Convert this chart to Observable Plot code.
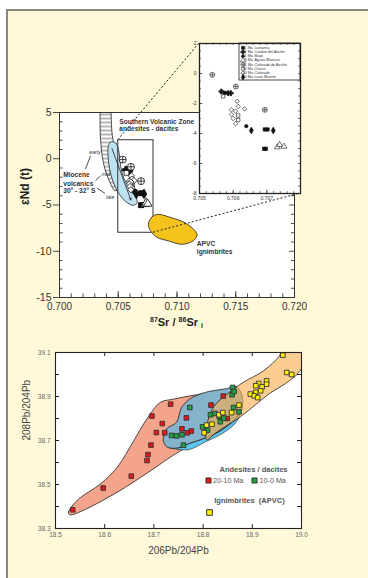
<!DOCTYPE html>
<html><head><meta charset="utf-8">
<script src="https://cdn.jsdelivr.net/npm/d3@7"></script>
<script src="https://cdn.jsdelivr.net/npm/@observablehq/plot@0.6"></script>
<style>
html,body{margin:0;padding:0;background:#fff;}
#page{position:relative;width:368px;height:578px;overflow:hidden;background:#fff;font-family:"Liberation Sans",Arial,sans-serif;}
#cream{position:absolute;left:6px;top:9px;right:0;bottom:0;background:#fff9da;border-left:2px solid #8a857e;border-top:2px solid #8a857e;}
#page svg{position:absolute;left:0;background:transparent;}
#srTitle{position:absolute;left:59px;width:235px;top:315px;text-align:center;font:bold 11px "Liberation Sans",Arial,sans-serif;color:#222;line-height:14px;}
#srTitle sup{font-size:7px;vertical-align:4px;line-height:0;}
#srTitle sub{font-size:7px;vertical-align:-2px;line-height:0;}
</style></head><body>
<div id="page"><div id="cream"></div></div>
<script>
// ---------------- Top panel: 87Sr/86Sr vs eNd ----------------
const srTicks = [0.700, 0.705, 0.710, 0.715, 0.720];
const ndTicks = [5, 0, -5, -10, -15];
const insetSrTicks = [0.705, 0.706, 0.707];
const insetNdTicks = [2, 0, -2, -4, -6, -8];
const zoomBox = {x1: 0.705, x2: 0.708, y1: -8, y2: 2};

const volcanoes = ["Lastarria", "Cordon del Azufre", "Bayo", "Aguas Blancas", "Colorado de Azufre", "Chaco", "Colorado", "Leon Muerto"];
const volcanoAges = ["<1 Ma", "<1 Ma", "<1 Ma", "8 Ma", "11 Ma", "16 Ma", "20 Ma", "20 Ma"];

// [unit, 87Sr/86Sr, eNd]
const svzSamples = [
  ["Colorado de Azufre", 0.70538, -0.09],
  ["Colorado de Azufre", 0.70608, -0.87],
  ["Colorado de Azufre", 0.70694, -2.42],
  ["Cordon del Azufre", 0.70565, -1.20],
  ["Lastarria", 0.70575, -1.29],
  ["Cordon del Azufre", 0.70585, -1.31],
  ["Cordon del Azufre", 0.70593, -1.31],
  ["Chaco", 0.70570, -1.53],
  ["Colorado", 0.70612, -1.85],
  ["Colorado", 0.70615, -2.20],
  ["Colorado", 0.70634, -2.36],
  ["Colorado", 0.70595, -2.42],
  ["Colorado", 0.70607, -2.51],
  ["Colorado", 0.70595, -2.73],
  ["Colorado", 0.70600, -3.00],
  ["Colorado", 0.70607, -3.35],
  ["Chaco", 0.70615, -2.80],
  ["Chaco", 0.70615, -3.10],
  ["Bayo", 0.70639, -3.51],
  ["Leon Muerto", 0.70654, -3.80],
  ["Lastarria", 0.70694, -3.73],
  ["Lastarria", 0.70702, -3.73],
  ["Leon Muerto", 0.70719, -3.80],
  ["Lastarria", 0.70692, -5.02],
  ["Lastarria", 0.70697, -5.02],
  ["Aguas Blancas", 0.70731, -4.91],
  ["Aguas Blancas", 0.70738, -4.75],
  ["Aguas Blancas", 0.70751, -4.87]
];

// outlines [87Sr/86Sr, eNd]
const hatchBand = [[0.70345,5.6],[0.70345,5],[0.70349,2.16],[0.70373,-0.4],[0.70416,-2.16],[0.70473,-3.46],[0.70500,-3.2],[0.70507,-1.3],[0.70481,0.3],[0.70460,1.73],[0.70447,2.8],[0.70439,5],[0.70439,5.6]];
const mioceneField = [[0.70439,1.84],[0.70481,1.68],[0.70507,0.65],[0.70520,-0.76],[0.70549,-2.16],[0.70600,-3.35],[0.70652,-4.22],[0.70660,-4.76],[0.70626,-5.03],[0.70566,-4.65],[0.70507,-3.79],[0.70456,-2.49],[0.70426,-1.08],[0.70413,0.32],[0.70417,1.41]];
const apvcField = [[0.70756,-7.07],[0.70788,-6.28],[0.70839,-6.01],[0.70941,-6.33],[0.71052,-6.82],[0.71137,-7.58],[0.71171,-8.23],[0.71137,-8.87],[0.71043,-9.25],[0.70924,-8.87],[0.70831,-8.5],[0.70775,-7.79]];
const trendArrow = [{x1: 0.70447, y1: 1.1, x2: 0.70607, y2: -4.45}];

const mainNotes = [
  {text: "Southern Volcanic Zone", x: 0.70509, y: 3.94},
  {text: "andesites - dacites", x: 0.70509, y: 3.22},
  {text: "Miocene", x: 0.70032, y: -1.76},
  {text: "volcanics", x: 0.70032, y: -2.67},
  {text: "30° - 32° S", x: 0.70032, y: -3.46},
  {text: "APVC", x: 0.71169, y: -9.17},
  {text: "ignimbrites", x: 0.71169, y: -10.06}
];
const phaseNotesEnd = [{text: "early", x: 0.70349, y: 0.68}, {text: "mid", x: 0.70430, y: -1.66}];
const phaseNotesStart = [{text: "late", x: 0.70396, y: -4.19}];
const leaders = [
  {x1: 0.70264, y1: 0.32, x2: 0.70221, y2: -1.11},
  {x1: 0.70349, y1: -1.84, x2: 0.70306, y2: -2.38},
  {x1: 0.70317, y1: -3.17, x2: 0.70388, y2: -3.75}
];

// ---------------- Bottom panel: Pb isotopes ----------------
const pbXTicks = [18.5, 18.6, 18.7, 18.8, 18.9, 19.0];
const pbYTicks = [38.3, 38.4, 38.5, 38.6, 38.7, 38.8, 38.9, 39.0, 39.1];
const pbYLabels = [38.3, 38.5, 38.7, 38.9, 39.1];

const pbOld = [[18.535,38.385],[18.597,38.484],[18.654,38.538],[18.686,38.609],[18.688,38.636],[18.694,38.679],[18.696,38.811],[18.705,38.736],[18.717,38.777],[18.722,38.735],[18.734,38.865],[18.757,38.753],[18.766,38.803],[18.768,38.735],[18.776,38.743],[18.816,38.861],[18.841,38.902],[18.849,38.800]];
const pbYoung = [[18.736,38.723],[18.746,38.721],[18.757,38.726],[18.760,38.679],[18.773,38.850],[18.799,38.762],[18.809,38.747],[18.815,38.817],[18.824,38.823],[18.833,38.808],[18.835,38.785],[18.842,38.802],[18.859,38.908],[18.860,38.941],[18.863,38.923],[18.862,38.850],[18.873,38.830]];
const pbIgn = [[18.962,39.088],[18.970,39.009],[18.980,39.000],[18.896,38.911],[18.907,38.919],[18.913,38.959],[18.920,38.944],[18.929,38.971],[18.929,38.956],[18.904,38.903],[18.911,38.895],[18.917,38.926],[18.907,38.949],[18.807,38.770],[18.802,38.735],[18.818,38.774],[18.832,38.817],[18.840,38.827],[18.858,38.827],[18.873,38.861]];

const oldField = [[18.526,38.371],[18.534,38.403],[18.551,38.441],[18.591,38.502],[18.625,38.577],[18.659,38.699],[18.686,38.799],[18.713,38.873],[18.740,38.888],[18.774,38.903],[18.825,38.921],[18.860,38.930],[18.866,38.889],[18.835,38.744],[18.754,38.653],[18.693,38.562],[18.625,38.464],[18.547,38.373],[18.530,38.362]];
const youngRim = [[18.728,38.669],[18.750,38.660],[18.772,38.659],[18.805,38.694],[18.840,38.733],[18.866,38.780],[18.879,38.840],[18.880,38.858],[18.866,38.799],[18.835,38.744],[18.805,38.712],[18.770,38.685],[18.750,38.667]];
const youngField = [[18.719,38.699],[18.726,38.753],[18.746,38.783],[18.756,38.849],[18.774,38.890],[18.805,38.919],[18.846,38.935],[18.868,38.944],[18.878,38.912],[18.880,38.858],[18.866,38.799],[18.835,38.744],[18.805,38.712],[18.770,38.685],[18.750,38.667],[18.728,38.669]];
const ignField = [[18.805,38.708],[18.811,38.800],[18.822,38.855],[18.848,38.910],[18.882,38.965],[18.923,39.017],[18.955,39.085],[18.965,39.13],[19.01,39.13],[19.005,39.05],[18.992,39.003],[18.967,38.958],[18.937,38.917],[18.909,38.867],[18.876,38.808],[18.841,38.758],[18.821,38.726],[18.809,38.703]];

// ---------------- styles ----------------
const FONT = "Liberation Sans, Arial, sans-serif";
const unitStyle = {
  "Lastarria": {symbol: "square", fill: "#111", k: 1},
  "Cordon del Azufre": {symbol: "cross", fill: "#111", k: 1.1},
  "Bayo": {symbol: "circle", fill: "#111", k: 0.9},
  "Aguas Blancas": {symbol: "triangle", fill: "white", k: 1.15},
  "Colorado de Azufre": {symbol: "circle", fill: "white", plus: true, k: 1.3},
  "Chaco": {symbol: "square", fill: "white", k: 1},
  "Colorado": {symbol: "diamond2", fill: "white", k: 1.05},
  "Leon Muerto": {symbol: "diamond", fill: "#111", k: 1.1}
};
function unitMarks(unit, data, r, sw, extra = {}) {
  const st = unitStyle[unit];
  const out = [Plot.dot(data, {...extra, symbol: st.symbol, r: r * st.k, fill: st.fill, stroke: "#111", strokeWidth: sw})];
  if (st.plus) out.push(Plot.dot(data, {...extra, symbol: "plus", r: r * st.k * 0.64, fill: "none", stroke: "#111", strokeWidth: sw}));
  return out;
}
function sampleMarks(r, sw) {
  return volcanoes.flatMap(v => unitMarks(v, svzSamples.filter(d => d[0] === v), r, sw, {x: d => d[1], y: d => d[2]}));
}
// edge ticks drawn with rules (inward unless out=true)
function edgeTicks(values, side, len, xd, yd, out = false, sw = 0.8) {
  const s = {stroke: "#222", strokeWidth: sw};
  if (side === "bottom") return Plot.ruleX(values, {x: d => d, y1: yd[0], y2: yd[0], ...(out ? {insetBottom: -len} : {insetTop: -len}), ...s});
  if (side === "top") return Plot.ruleX(values, {x: d => d, y1: yd[1], y2: yd[1], ...(out ? {insetTop: -len} : {insetBottom: -len}), ...s});
  if (side === "left") return Plot.ruleY(values, {y: d => d, x1: xd[0], x2: xd[0], ...(out ? {insetLeft: -len} : {insetRight: -len}), ...s});
  return Plot.ruleY(values, {y: d => d, x1: xd[1], x2: xd[1], ...(out ? {insetRight: -len} : {insetLeft: -len}), ...s});
}
const P = {x: d => d[0], y: d => d[1]};

// ---------------- main top plot ----------------
const mX = [0.700, 0.720], mY = [-15, 5];
const srMinor = d3.range(0, 21).map(i => 0.700 + i * 0.001);
const ndMinor = d3.range(-15, 6).filter(v => v % 5 !== 0);
const main = Plot.plot({
  width: 368, height: 340,
  marginLeft: 59, marginRight: 74, marginTop: 112, marginBottom: 43,
  x: {domain: mX}, y: {domain: mY},
  style: {background: "transparent", fontFamily: FONT},
  marks: [
    Plot.frame({fill: "white"}),
    Plot.line(hatchBand, {...P, curve: "catmull-rom-closed", fill: "url(#hatch)", stroke: "#222", strokeWidth: 0.8, clip: true}),
    Plot.line(mioceneField, {...P, curve: "catmull-rom-closed", fill: "#bfe2f2", stroke: "#222", strokeWidth: 0.8}),
    Plot.arrow(trendArrow, {x1: "x1", y1: "y1", x2: "x2", y2: "y2", stroke: "#222", strokeWidth: 0.8, headLength: 4}),
    Plot.rect([zoomBox], {x1: "x1", x2: "x2", y1: "y1", y2: "y2", fill: "none", stroke: "#333", strokeWidth: 1}),
    Plot.line(apvcField, {...P, curve: "catmull-rom-closed", fill: "#f6c21c", stroke: "#222", strokeWidth: 0.8}),
    ...sampleMarks(2.7, 0.8),
    Plot.link(leaders, {x1: "x1", y1: "y1", x2: "x2", y2: "y2", stroke: "#222", strokeWidth: 0.8}),
    Plot.text(mainNotes, {x: "x", y: "y", text: "text", textAnchor: "start", fontSize: 6.6, fontWeight: "bold", fill: "#333"}),
    Plot.text(phaseNotesEnd, {x: "x", y: "y", text: "text", textAnchor: "end", fontSize: 5.2, fontStyle: "italic", fill: "#333"}),
    Plot.text(phaseNotesStart, {x: "x", y: "y", text: "text", textAnchor: "start", fontSize: 5.2, fontStyle: "italic", fill: "#333"}),
    edgeTicks(srMinor, "bottom", 3.5, mX, mY),
    edgeTicks(srTicks, "bottom", 6, mX, mY),
    edgeTicks(ndMinor, "left", 3.5, mX, mY),
    edgeTicks(ndTicks, "left", 6, mX, mY, true),
    edgeTicks(ndMinor, "right", 3, mX, mY),
    edgeTicks(ndTicks, "right", 5, mX, mY),
    Plot.axisX({ticks: srTicks, tickSize: 0, tickPadding: 5, tickFormat: d3.format(".3f"), fontSize: 10, fill: "#333", label: null}),
    Plot.axisY({ticks: ndTicks, tickSize: 0, tickPadding: 8, tickFormat: d => String(d), fontSize: 10.5, fill: "#333", label: null}),
    Plot.frame({stroke: "#333", strokeWidth: 1}),
    Plot.text(["εNd (t)"], {frameAnchor: "left", dx: -34, rotate: -90, fontSize: 12, fontWeight: "bold", fill: "#222"})
  ]
});
d3.select(main).insert("defs", ":first-child").html(
  '<pattern id="hatch" patternUnits="userSpaceOnUse" width="6" height="4"><rect width="6" height="4" fill="white"/><line x1="0" y1="2" x2="6" y2="2" stroke="#707070" stroke-width="1"/></pattern>');
main.style.top = "0px";

// ---------------- inset ----------------
const iX = [0.705, 0.708], iY = [-8, 2];
const insetXMinor = d3.range(0, 16).map(i => 0.705 + i * 0.0002);
const insetYMinor = d3.range(-8, 2.01, 0.5);
function legendBox(index, scales, values, dims) {
  const g = d3.create("svg:g");
  const x1 = dims.width - dims.marginRight;
  g.append("rect").attr("x", x1 - 61).attr("y", dims.marginTop).attr("width", 61).attr("height", 37)
    .attr("fill", "white").attr("stroke", "#222").attr("stroke-width", 0.8);
  return g.node();
}
const legendMarks = volcanoes.flatMap((v, i) => unitMarks(v, [v], 1.7, 0.5, {frameAnchor: "top-right", dx: -57.5, dy: 4.3 + i * 4.2}));
const inset = Plot.plot({
  width: 368, height: 340,
  marginLeft: 199, marginRight: 68, marginTop: 43, marginBottom: 147,
  x: {domain: iX}, y: {domain: iY},
  style: {background: "transparent", fontFamily: FONT},
  marks: [
    Plot.frame({fill: "white"}),
    legendBox,
    ...sampleMarks(1.9, 0.6),
    ...legendMarks,
    Plot.text([volcanoAges.join("\n")], {frameAnchor: "top-right", dx: -47.5, dy: 2.4, lineAnchor: "top", lineHeight: 1.105, textAnchor: "end", fontSize: 3.8, fill: "#333", text: d => d}),
    Plot.text([volcanoes.join("\n")], {frameAnchor: "top-right", dx: -46, dy: 2.4, lineAnchor: "top", lineHeight: 1.105, textAnchor: "start", fontSize: 3.8, fill: "#333", text: d => d}),
    edgeTicks(insetXMinor, "bottom", 2, iX, iY, false, 0.6),
    edgeTicks(insetSrTicks, "bottom", 3.5, iX, iY, false, 0.6),
    edgeTicks(insetXMinor, "top", 2, iX, iY, false, 0.6),
    edgeTicks(insetYMinor, "left", 2, iX, iY, false, 0.6),
    edgeTicks(insetNdTicks, "left", 3.5, iX, iY, false, 0.6),
    edgeTicks(insetYMinor, "right", 2, iX, iY, false, 0.6),
    Plot.axisX({ticks: insetSrTicks, tickSize: 0, tickPadding: 3, tickFormat: d3.format(".3f"), fontSize: 5, fill: "#333", label: null}),
    Plot.axisY({ticks: insetNdTicks, tickSize: 0, tickPadding: 3, tickFormat: d => String(d), fontSize: 5, fill: "#333", label: null}),
    Plot.frame({stroke: "#222", strokeWidth: 1.3})
  ]
});
inset.style.top = "0px";

// dashed connectors between the zoom box and the inset, from both plots' scales
const mx = main.scale("x"), my = main.scale("y"), ix = inset.scale("x"), iy = inset.scale("y");
const corners = [[zoomBox.x1, zoomBox.y2], [zoomBox.x2, zoomBox.y1]];
const overlay = d3.create("svg").attr("width", 368).attr("height", 340).style("top", "0px");
overlay.selectAll("line").data(corners).join("line")
  .attr("x1", d => mx.apply(d[0])).attr("y1", d => my.apply(d[1]))
  .attr("x2", d => ix.apply(d[0])).attr("y2", d => iy.apply(d[1]))
  .attr("stroke", "#222").attr("stroke-width", 1).attr("stroke-dasharray", "2,2");

// ---------------- bottom plot ----------------
const bX = [18.5, 19.0], bY = [38.3, 39.1];
const sq = (data, fill, r) => Plot.dot(data, {...P, symbol: "square", r, fill, stroke: "#333", strokeWidth: 0.9});
const lg = (dx, dy, anchor = "middle") => ({frameAnchor: "top-left", dx, dy, textAnchor: anchor, lineAnchor: "middle"});
const bottom = Plot.plot({
  width: 368, height: 238,
  marginLeft: 55, marginRight: 67, marginTop: 12, marginBottom: 50,
  x: {domain: bX}, y: {domain: bY},
  style: {background: "transparent", fontFamily: FONT},
  marks: [
    Plot.frame({fill: "white"}),
    Plot.line(oldField, {...P, curve: "catmull-rom-closed", fill: "#f4a48b", stroke: "#222", strokeWidth: 0.8, clip: true}),
    Plot.line(youngRim, {...P, curve: "catmull-rom-closed", fill: "#5fc4ee", stroke: "#222", strokeWidth: 0.6, clip: true}),
    Plot.line(youngField, {...P, curve: "catmull-rom-closed", fill: "#85b3cb", stroke: "#222", strokeWidth: 0.8, clip: true}),
    Plot.line(ignField, {...P, curve: "catmull-rom-closed", fill: "#f9ae4c", fillOpacity: 0.62, stroke: "#222", strokeWidth: 0.8, clip: true}),
    sq(pbOld, "#e5161c", 2.6),
    sq(pbYoung, "#20a040", 2.6),
    sq(pbIgn, "#fff200", 2.6),
    Plot.text(["Andesites / dacites"], {...lg(198, 117), text: d => d, fontSize: 7.5, fontWeight: "bold", fill: "#555"}),
    Plot.dot(["20-10 Ma"], {frameAnchor: "top-left", dx: 153, dy: 128, symbol: "square", r: 2.9, fill: "#e5161c", stroke: "#333", strokeWidth: 0.9}),
    Plot.text(["20-10 Ma"], {...lg(157.5, 128, "start"), text: d => d, fontSize: 7.2, fill: "#555"}),
    Plot.dot(["10-0 Ma"], {frameAnchor: "top-left", dx: 199, dy: 128, symbol: "square", r: 2.9, fill: "#20a040", stroke: "#333", strokeWidth: 0.9}),
    Plot.text(["10-0 Ma"], {...lg(204, 128, "start"), text: d => d, fontSize: 7.2, fill: "#555"}),
    Plot.text(["Ignimbrites  (APVC)"], {...lg(194, 148), text: d => d, fontSize: 7.5, fontWeight: "bold", fill: "#555"}),
    Plot.dot(["Ignimbrites"], {frameAnchor: "top-left", dx: 154, dy: 160, symbol: "square", r: 3.2, fill: "#fff200", stroke: "#333", strokeWidth: 1}),
    edgeTicks(pbXTicks, "bottom", 4, bX, bY, false, 1),
    edgeTicks(pbXTicks, "top", 4, bX, bY, false, 1),
    edgeTicks(pbYTicks, "left", 4, bX, bY, false, 1),
    edgeTicks(pbYTicks, "right", 4, bX, bY, false, 1),
    Plot.axisX({ticks: pbXTicks, tickSize: 0, tickPadding: 4, tickFormat: d3.format(".1f"), fontSize: 6.5, fill: "#666", label: null}),
    Plot.axisY({ticks: pbYLabels, tickSize: 0, tickPadding: 5, tickFormat: d3.format(".1f"), fontSize: 6.5, fill: "#666", label: null}),
    Plot.frame({stroke: "#222", strokeWidth: 1.1}),
    Plot.text(["206Pb/204Pb"], {frameAnchor: "bottom", dy: 25, fontSize: 10, fill: "#444"}),
    Plot.text(["208Pb/204Pb"], {frameAnchor: "left", dx: -29, rotate: -90, fontSize: 10, fill: "#444"})
  ]
});
bottom.style.top = "340px";

const page = document.getElementById("page");
page.appendChild(main);
page.appendChild(overlay.node());
page.appendChild(inset);
page.appendChild(bottom);
const t = document.createElement("div");
t.id = "srTitle";
t.innerHTML = "<sup>87</sup>Sr / <sup>86</sup>Sr <sub>i</sub>";
page.appendChild(t);
</script>
</body></html>
